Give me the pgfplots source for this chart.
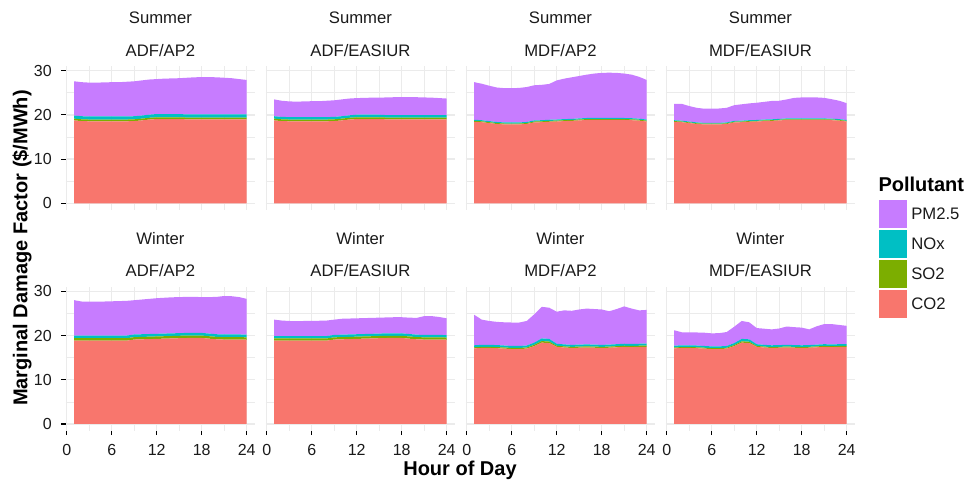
\documentclass[border=0pt]{standalone}
\usepackage{pgfplots}
\usepackage{pgfplotstable}
\pgfplotsset{compat=1.18}
\usepackage{fontspec}
\setmainfont{Liberation Sans}
\definecolor{co2c}{HTML}{F8766D}
\definecolor{so2c}{HTML}{7CAE00}
\definecolor{noxc}{HTML}{00BFC4}
\definecolor{pmc}{HTML}{C77CFF}
\definecolor{gridc}{HTML}{EBEBEB}
\definecolor{txtc}{HTML}{1A1A1A}

\pgfplotstableread{
h co2 so2 nox pm
1 18.75 0.4 0.7 7.75
2 18.6 0.4 0.7 7.7
3 18.55 0.4 0.7 7.65
4 18.55 0.4 0.7 7.65
5 18.55 0.4 0.7 7.7
6 18.55 0.4 0.7 7.75
7 18.55 0.4 0.7 7.75
8 18.55 0.4 0.7 7.85
9 18.6 0.4 0.7 7.9
10 18.75 0.4 0.7 7.95
11 18.95 0.4 0.7 7.95
12 19.05 0.4 0.75 7.9
13 19.05 0.4 0.75 8.0
14 19.05 0.4 0.75 8.05
15 19.05 0.4 0.75 8.1
16 19.0 0.4 0.7 8.3
17 19.0 0.4 0.7 8.4
18 19.0 0.4 0.7 8.45
19 19.0 0.4 0.7 8.45
20 19.0 0.4 0.7 8.4
21 19.0 0.4 0.7 8.3
22 19.0 0.4 0.7 8.2
23 19.0 0.4 0.7 8.0
24 19.0 0.4 0.7 7.8
}\sA
\pgfplotstableread{
h co2 so2 nox pm
1 18.75 0.4 0.55 3.8
2 18.6 0.4 0.55 3.65
3 18.55 0.4 0.55 3.55
4 18.55 0.4 0.55 3.5
5 18.55 0.4 0.55 3.55
6 18.55 0.4 0.55 3.6
7 18.55 0.4 0.55 3.6
8 18.55 0.4 0.55 3.7
9 18.6 0.4 0.55 3.75
10 18.75 0.4 0.55 3.8
11 18.95 0.4 0.55 3.8
12 19.05 0.4 0.6 3.75
13 19.05 0.4 0.6 3.8
14 19.05 0.4 0.6 3.85
15 19.05 0.4 0.6 3.85
16 19.0 0.4 0.55 4.0
17 19.0 0.4 0.55 4.05
18 19.0 0.4 0.55 4.05
19 19.0 0.4 0.55 4.05
20 19.0 0.4 0.55 4.05
21 19.0 0.4 0.55 4.0
22 19.0 0.4 0.55 3.95
23 19.0 0.4 0.55 3.85
24 19.0 0.4 0.55 3.75
}\sB
\pgfplotstableread{
h co2 so2 nox pm
1 18.45 0.2 0.25 8.5
2 18.35 0.2 0.25 8.25
3 18.15 0.2 0.25 8.0
4 17.95 0.2 0.25 7.8
5 17.85 0.2 0.25 7.75
6 17.85 0.2 0.25 7.75
7 17.85 0.2 0.25 7.8
8 17.95 0.2 0.25 7.9
9 18.3 0.2 0.25 7.95
10 18.35 0.2 0.25 8.0
11 18.45 0.2 0.25 8.1
12 18.5 0.2 0.25 8.85
13 18.6 0.2 0.25 9.15
14 18.65 0.2 0.25 9.4
15 18.75 0.2 0.25 9.6
16 18.85 0.2 0.25 9.8
17 18.85 0.2 0.25 10.05
18 18.85 0.2 0.25 10.2
19 18.85 0.2 0.25 10.25
20 18.85 0.2 0.25 10.2
21 18.85 0.2 0.25 10.05
22 18.8 0.2 0.25 9.85
23 18.7 0.2 0.25 9.45
24 18.5 0.2 0.25 8.95
}\sC
\pgfplotstableread{
h co2 so2 nox pm
1 18.45 0.15 0.2 3.7
2 18.35 0.15 0.2 3.8
3 18.15 0.15 0.2 3.5
4 17.95 0.15 0.2 3.3
5 17.85 0.15 0.2 3.2
6 17.85 0.15 0.2 3.2
7 17.85 0.15 0.2 3.25
8 17.95 0.15 0.2 3.3
9 18.3 0.15 0.2 3.55
10 18.35 0.15 0.2 3.7
11 18.45 0.15 0.2 3.8
12 18.5 0.15 0.2 3.9
13 18.6 0.15 0.2 4.0
14 18.65 0.15 0.2 4.15
15 18.75 0.15 0.2 4.1
16 18.85 0.15 0.2 4.3
17 18.85 0.15 0.2 4.65
18 18.85 0.15 0.2 4.75
19 18.85 0.15 0.2 4.75
20 18.85 0.15 0.2 4.75
21 18.85 0.15 0.2 4.65
22 18.8 0.15 0.2 4.4
23 18.7 0.15 0.2 4.15
24 18.5 0.15 0.2 3.8
}\sD
\pgfplotstableread{
h co2 so2 nox pm
1 18.85 0.55 0.6 8.0
2 18.85 0.55 0.6 7.7
3 18.85 0.55 0.6 7.65
4 18.85 0.55 0.6 7.65
5 18.85 0.55 0.6 7.7
6 18.85 0.55 0.6 7.75
7 18.85 0.55 0.6 7.8
8 18.85 0.55 0.6 7.85
9 19.1 0.55 0.6 7.75
10 19.15 0.55 0.6 7.85
11 19.2 0.55 0.6 7.95
12 19.25 0.55 0.6 8.05
13 19.3 0.55 0.6 8.1
14 19.35 0.55 0.6 8.15
15 19.4 0.55 0.6 8.15
16 19.45 0.55 0.6 8.15
17 19.45 0.55 0.6 8.15
18 19.45 0.55 0.6 8.1
19 19.3 0.55 0.6 8.25
20 19.15 0.55 0.6 8.45
21 19.1 0.55 0.6 8.7
22 19.1 0.55 0.6 8.65
23 19.1 0.55 0.6 8.45
24 19.05 0.55 0.6 8.1
}\wA
\pgfplotstableread{
h co2 so2 nox pm
1 18.85 0.5 0.55 3.7
2 18.85 0.5 0.55 3.5
3 18.85 0.5 0.55 3.4
4 18.85 0.5 0.55 3.35
5 18.85 0.5 0.55 3.4
6 18.85 0.5 0.55 3.4
7 18.85 0.5 0.55 3.45
8 18.85 0.5 0.55 3.5
9 19.1 0.5 0.55 3.45
10 19.15 0.5 0.55 3.6
11 19.2 0.5 0.55 3.6
12 19.25 0.5 0.55 3.6
13 19.3 0.5 0.55 3.6
14 19.35 0.5 0.55 3.6
15 19.4 0.5 0.55 3.6
16 19.45 0.5 0.55 3.6
17 19.45 0.5 0.55 3.65
18 19.45 0.5 0.55 3.65
19 19.3 0.5 0.55 3.7
20 19.15 0.5 0.55 3.8
21 19.1 0.5 0.55 4.25
22 19.1 0.5 0.55 4.25
23 19.1 0.5 0.55 4.05
24 19.05 0.5 0.55 3.8
}\wB
\pgfplotstableread{
h co2 so2 nox pm
1 17.1 0.25 0.45 6.9
2 17.2 0.25 0.45 5.7
3 17.2 0.25 0.45 5.4
4 17.15 0.25 0.45 5.25
5 17.05 0.25 0.45 5.25
6 16.95 0.25 0.45 5.3
7 16.95 0.25 0.45 5.3
8 17.05 0.25 0.45 5.55
9 17.6 0.3 0.5 6.4
10 18.4 0.35 0.6 7.15
11 18.3 0.35 0.6 7.05
12 17.45 0.25 0.45 7.25
13 17.3 0.25 0.45 7.7
14 17.2 0.25 0.45 7.7
15 17.25 0.25 0.45 7.95
16 17.3 0.25 0.45 8.1
17 17.25 0.25 0.45 8.05
18 17.2 0.25 0.45 8.0
19 17.25 0.25 0.45 7.55
20 17.35 0.25 0.45 7.95
21 17.45 0.25 0.45 8.45
22 17.4 0.25 0.45 8.0
23 17.45 0.25 0.45 7.55
24 17.45 0.25 0.45 7.65
}\wC
\pgfplotstableread{
h co2 so2 nox pm
1 17.1 0.2 0.4 3.5
2 17.2 0.2 0.4 2.95
3 17.2 0.2 0.4 2.9
4 17.15 0.2 0.4 2.95
5 17.05 0.2 0.4 3.0
6 16.95 0.2 0.4 2.95
7 16.95 0.2 0.4 3.0
8 17.05 0.2 0.4 3.15
9 17.6 0.25 0.45 3.7
10 18.4 0.3 0.55 4.05
11 18.3 0.3 0.55 3.85
12 17.45 0.2 0.4 3.65
13 17.3 0.2 0.4 3.65
14 17.2 0.2 0.4 3.6
15 17.25 0.2 0.4 3.75
16 17.3 0.2 0.4 4.15
17 17.25 0.2 0.4 4.05
18 17.2 0.2 0.4 4.0
19 17.25 0.2 0.4 3.55
20 17.35 0.2 0.4 4.15
21 17.45 0.2 0.4 4.55
22 17.4 0.2 0.4 4.6
23 17.45 0.2 0.4 4.35
24 17.45 0.2 0.4 4.15
}\wD

\newcommand\tickfont{\fontsize{12}{12}\selectfont}
\newcommand\stripfont{\fontsize{12.5}{12.5}\selectfont}
\newcommand\titlefont{\fontsize{15}{15}\selectfont\bfseries}

\pgfplotsset{
  panel/.style={
    scale only axis, width=142.3pt, height=107.8pt,
    anchor=north west,
    xmin=-0.15, xmax=25.15, ymin=-1.48, ymax=31.03,
    xtick={0,6,12,18,24}, ytick={0,10,20,30},
    minor xtick={3,9,15,21}, minor ytick={5,15,25},
    grid=both,
    major grid style={color=gridc, line width=1pt},
    minor grid style={color=gridc, line width=0.5pt},
    axis line style={draw=none},
    tick align=outside, major tick length=3.4pt, minor tick length=0pt,
    xtick pos=bottom, ytick pos=left,
    tick style={black, line width=0.8pt},
    xminorticks=false, yminorticks=false,
    stack plots=y, clip=false,
    ticklabel style={font=\tickfont, text=txtc},
    xticklabel style={anchor=base, inner sep=0pt, yshift=-15.55pt},
    yticklabel style={anchor=east, inner sep=0pt, xshift=-6.8pt},
    /pgf/number format/assume math mode=true,
  },
  noxt/.style={xmajorticks=false, xticklabel={}},
  noyt/.style={ymajorticks=false, yticklabel={}},
  sqleg/.style={legend image code/.code={\fill[##1] (0pt,-10.4pt) rectangle (20.8pt,10.4pt);}},
}
\newcommand\strip[2]{%
  \node[anchor=base, font=\stripfont, text=txtc, inner sep=0pt] at (rel axis cs:0.5,1) [yshift=32pt] {#1};
  \node[anchor=base, font=\stripfont, text=txtc, inner sep=0pt] at (rel axis cs:0.5,1) [yshift=7.5pt] {#2};
}
\newcommand\stack[1]{%
  \addplot[fill=co2c, draw=none, sqleg] table[x=h,y=co2]{#1} \closedcycle;
  \addplot[fill=so2c, draw=none, sqleg] table[x=h,y=so2]{#1} \closedcycle;
  \addplot[fill=noxc, draw=none, sqleg] table[x=h,y=nox]{#1} \closedcycle;
  \addplot[fill=pmc, draw=none, sqleg] table[x=h,y=pm]{#1} \closedcycle;
}

\begin{document}
\begin{tikzpicture}
\path[use as bounding box] (0,0) rectangle (726pt,-360.75pt);

\begin{axis}[panel, noxt, at={(49.2pt,-49.6pt)}]
\stack{\sA}
\strip{Summer}{ADF/AP2}
\end{axis}
\begin{axis}[panel, noxt, noyt, at={(199.2pt,-49.6pt)}]
\stack{\sB}
\strip{Summer}{ADF/EASIUR}
\end{axis}
\begin{axis}[panel, noxt, noyt, at={(349.2pt,-49.6pt)}]
\stack{\sC}
\strip{Summer}{MDF/AP2}
\end{axis}
\begin{axis}[panel, noxt, noyt, at={(499.2pt,-49.6pt)},
  reverse legend,
  legend style={at={(axis description cs:1.125,0.068)}, anchor=north west,
    draw=none, fill=none, inner sep=0pt, row sep=1.7pt, column sep=3.2pt,
    font=\stripfont, text=txtc, nodes={inner sep=0pt}},
  legend cell align=left]
\stack{\sD}
\legend{CO2,SO2,NOx,PM2.5}
\strip{Summer}{MDF/EASIUR}
\node[anchor=base west, inner sep=0pt, font=\titlefont, text=black] at (axis description cs:1.121,0.126) {Pollutant};
\end{axis}

\begin{axis}[panel, at={(49.2pt,-215.1pt)}]
\stack{\wA}
\strip{Winter}{ADF/AP2}
\end{axis}
\begin{axis}[panel, noyt, at={(199.2pt,-215.1pt)}]
\stack{\wB}
\strip{Winter}{ADF/EASIUR}
\end{axis}
\begin{axis}[panel, noyt, at={(349.2pt,-215.1pt)}]
\stack{\wC}
\strip{Winter}{MDF/AP2}
\end{axis}
\begin{axis}[panel, noyt, at={(499.2pt,-215.1pt)}]
\stack{\wD}
\strip{Winter}{MDF/EASIUR}
\end{axis}

\node[anchor=base, inner sep=0pt, font=\titlefont] at (345pt,-356.3pt) {Hour of Day};
\node[rotate=90, inner sep=0pt, font=\titlefont] at (16.5pt,-186pt) {Marginal Damage Factor (\$/MWh)};
\end{tikzpicture}
\end{document}
